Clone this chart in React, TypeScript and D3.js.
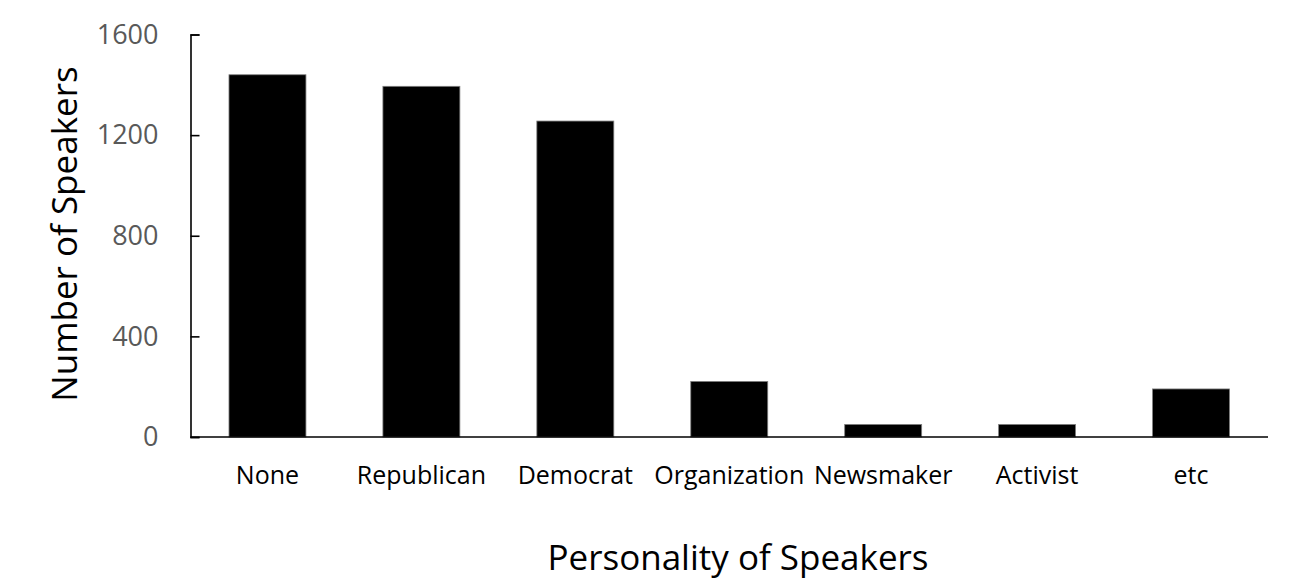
import React, {useEffect, useRef} from "react";
import {axisLeft, scaleBand, scaleLinear, select} from "d3";

// chart data
const categories = ["None", "Republican", "Democrat", "Organization", "Newsmaker", "Activist", "etc"];
const speakers = [1440, 1394, 1256, 221, 50, 50, 191];
const yTicks = [0, 400, 800, 1200, 1600];

const width = 1301;
const height = 588;
const margin = {top: 34.5, right: 33, bottom: 151, left: 190.5};
const font = "'Open Sans', sans-serif";

function App() {
    const svgRef = useRef(null);

    useEffect(() => {
        const svg = select(svgRef.current);
        svg.selectAll("*").remove();

        const xScale = scaleBand()
            .domain(categories)
            .range([margin.left, width - margin.right])
            .paddingInner(0.5)
            .paddingOuter(0.25);

        const yScale = scaleLinear()
            .domain([0, 1600])
            .range([height - margin.bottom, margin.top]);

        // bars
        svg.append("g")
            .selectAll("rect")
            .data(speakers)
            .join("rect")
            .attr("x", (d, i) => xScale(categories[i]))
            .attr("y", d => yScale(d))
            .attr("width", xScale.bandwidth())
            .attr("height", d => yScale(0) - yScale(d))
            .attr("fill", "#000")
            .attr("stroke", "#7f7f7f")
            .attr("stroke-width", 0.8);

        // y axis, ticks pointing inwards
        const yAxis = axisLeft(yScale)
            .tickValues(yTicks)
            .tickFormat(d => String(d))
            .tickSizeInner(-9)
            .tickSizeOuter(-9)
            .tickPadding(32);
        const gy = svg.append("g")
            .attr("transform", `translate(${margin.left},0)`)
            .call(yAxis);
        gy.select(".domain").attr("stroke", "#000").attr("stroke-width", 1.6);
        gy.selectAll(".tick line").attr("stroke", "#000").attr("stroke-width", 1.6);
        gy.selectAll(".tick text")
            .attr("fill", "#595959")
            .style("font-family", font)
            .style("font-size", "27px");

        // x axis line
        svg.append("line")
            .attr("x1", margin.left)
            .attr("x2", width - margin.right)
            .attr("y1", yScale(0))
            .attr("y2", yScale(0))
            .attr("stroke", "#000")
            .attr("stroke-width", 1.6);

        // category labels
        svg.append("g")
            .selectAll("text")
            .data(categories)
            .join("text")
            .attr("x", d => xScale(d) + xScale.bandwidth() / 2)
            .attr("y", 484)
            .attr("text-anchor", "middle")
            .style("font-family", font)
            .style("font-size", "25px")
            .attr("fill", "#000")
            .text(d => d);

        // axis titles
        svg.append("text")
            .attr("x", 738)
            .attr("y", 570)
            .attr("text-anchor", "middle")
            .style("font-family", font)
            .style("font-size", "35px")
            .text("Personality of Speakers");

        svg.append("text")
            .attr("transform", "translate(77,234) rotate(-90)")
            .attr("text-anchor", "middle")
            .style("font-family", font)
            .style("font-size", "35px")
            .text("Number of Speakers");
    }, []);

    return (
        <svg ref={svgRef} width={width} height={height}
             style={{position: "absolute", left: 0, top: 0, background: "#fff"}}/>
    );
}

export default App;
